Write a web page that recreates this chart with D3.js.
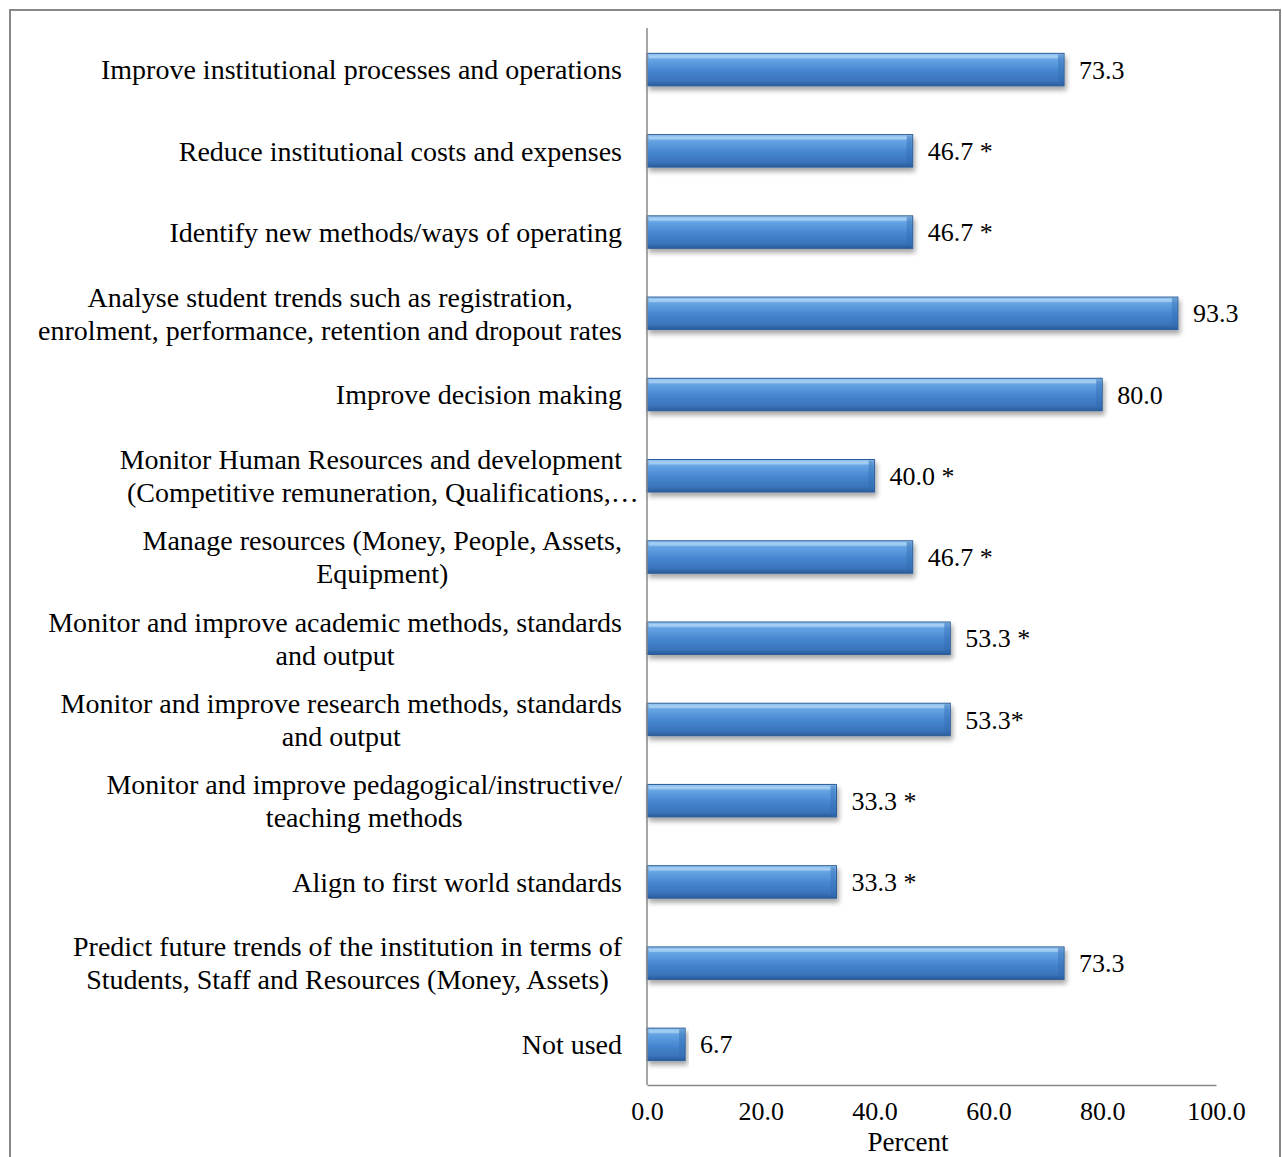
<!DOCTYPE html>
<html>
<head>
<meta charset="utf-8">
<script src="https://cdn.jsdelivr.net/npm/d3@7"></script>
<style>
  body { margin: 0; background: #fff; }
  svg { display: block; }
  svg text { fill: #000; }
</style>
</head>
<body>
<svg id="chart" width="1282" height="1157"></svg>
<script>
const categories = [
  ["Improve institutional processes and operations"],
  ["Reduce institutional costs and expenses"],
  ["Identify new methods/ways of operating"],
  ["Analyse student trends such as registration,", "enrolment, performance, retention and dropout rates"],
  ["Improve decision making"],
  ["Monitor Human Resources and development", "(Competitive remuneration, Qualifications,\u2026"],
  ["Manage resources (Money, People, Assets,", "Equipment)"],
  ["Monitor and improve academic methods, standards", "and output"],
  ["Monitor and improve research methods, standards", "and output"],
  ["Monitor and improve pedagogical/instructive/", "teaching methods"],
  ["Align to first world standards"],
  ["Predict future trends of the institution in terms of", "Students, Staff and Resources (Money, Assets)"],
  ["Not used"]
];
const values = [73.3, 46.7, 46.7, 93.3, 80.0, 40.0, 46.7, 53.3, 53.3, 33.3, 33.3, 73.3, 6.7];
const valueLabels = ["73.3", "46.7 *", "46.7 *", "93.3", "80.0", "40.0 *", "46.7 *", "53.3 *", "53.3*", "33.3 *", "33.3 *", "73.3", "6.7"];
const xTicks = [0, 20, 40, 60, 80, 100];
const xTitle = "Percent";

const FONT = "'Liberation Serif', Tinos, 'Times New Roman', Times, serif";
const svg = d3.select("#chart");
const plot = { left: 647, right: 1216, top: 29, bottom: 1085 };

// outer border
svg.append("rect").attr("x", 10).attr("y", 10).attr("width", 1270).attr("height", 1160)
  .attr("fill", "none").attr("stroke", "#878787").attr("stroke-width", 2);

const x = d3.scaleLinear().domain([0, 100]).range([plot.left, plot.right]);
const y = d3.scaleBand().domain(d3.range(categories.length)).range([plot.top, plot.bottom]).paddingInner(0.6).paddingOuter(0.3);

const defs = svg.append("defs");
const grad = defs.append("linearGradient").attr("id", "barGrad").attr("x1", 0).attr("y1", 0).attr("x2", 0).attr("y2", 1);
grad.append("stop").attr("offset", "0%").attr("stop-color", "#9ccaf2");
grad.append("stop").attr("offset", "20%").attr("stop-color", "#64a3e3");
grad.append("stop").attr("offset", "55%").attr("stop-color", "#4585cf");
grad.append("stop").attr("offset", "85%").attr("stop-color", "#3a74bb");
grad.append("stop").attr("offset", "100%").attr("stop-color", "#285b99");
const filt = defs.append("filter").attr("id", "shadow").attr("x", "-5%").attr("y", "-20%").attr("width", "115%").attr("height", "160%");
filt.append("feGaussianBlur").attr("in", "SourceAlpha").attr("stdDeviation", 2.5);
filt.append("feOffset").attr("dx", 2).attr("dy", 4).attr("result", "ob");
filt.append("feComponentTransfer").append("feFuncA").attr("type", "linear").attr("slope", 0.35);
const merge = filt.append("feMerge");
merge.append("feMergeNode");
merge.append("feMergeNode").attr("in", "SourceGraphic");

// bars
const g = svg.append("g");
const bars = g.selectAll("g.bar").data(values).enter().append("g").attr("class", "bar");
bars.append("rect")
  .attr("x", x(0)).attr("y", (d, i) => y(i))
  .attr("width", d => x(d) - x(0)).attr("height", y.bandwidth())
  .attr("fill", "url(#barGrad)").attr("stroke", "#2c5d98").attr("stroke-width", 1)
  .attr("filter", "url(#shadow)");
// right bevel edge
bars.append("rect")
  .attr("x", d => x(d) - 6).attr("y", (d, i) => y(i) + 1)
  .attr("width", 5).attr("height", y.bandwidth() - 2)
  .attr("fill", "#2f6aae").attr("opacity", 0.4);
// top highlight line
bars.append("rect")
  .attr("x", x(0) + 2).attr("y", (d, i) => y(i) + 2)
  .attr("width", d => Math.max(0, x(d) - x(0) - 8)).attr("height", 3)
  .attr("fill", "#c4e1fa").attr("opacity", 0.5);

// value labels
g.selectAll("text.val").data(values).enter().append("text")
  .attr("class", "val")
  .attr("x", d => x(d) + 15)
  .attr("y", (d, i) => y(i) + y.bandwidth() / 2)
  .attr("dy", "0.35em")
  .attr("font-size", 26)
  .attr("font-family", FONT)
  .text((d, i) => valueLabels[i]);

// axes lines
svg.append("line").attr("x1", plot.left).attr("x2", plot.left).attr("y1", plot.top - 1).attr("y2", plot.bottom)
  .attr("stroke", "#888").attr("stroke-width", 1.5);
const xAxis = d3.axisBottom(x).tickValues(xTicks).tickSize(0).tickPadding(17).tickFormat(d3.format(".1f"));
const ax = svg.append("g").attr("transform", `translate(0,${plot.bottom})`).call(xAxis);
ax.attr("font-family", FONT).attr("font-size", 26);
ax.select(".domain").attr("stroke", "#888").attr("stroke-width", 1.5);
ax.selectAll("text").attr("font-size", 26).attr("font-family", FONT).attr("fill", "#000");

svg.append("text").attr("x", 908).attr("y", 1151)
  .attr("text-anchor", "middle").attr("font-size", 27).attr("font-family", FONT).text(xTitle);

// category labels
const labelRight = 622;
const lineH = 33;
categories.forEach((lines, i) => {
  const t = svg.append("text").attr("font-size", 28).attr("font-family", FONT).attr("text-anchor", "middle");
  const spans = lines.map(l => t.append("tspan").text(l));
  let maxW = 0;
  spans.forEach((s, k) => {
    const w = s.node().getComputedTextLength();
    if (!lines[k].endsWith("\u2026")) maxW = Math.max(maxW, w);
  });
  const cx = labelRight - maxW / 2;
  const cy = y(i) + y.bandwidth() / 2;
  const y0 = cy - (lines.length - 1) * lineH / 2;
  spans.forEach((s, k) => {
    s.attr("x", lines[k].endsWith("\u2026") ? cx + 12 : cx).attr("y", y0 + k * lineH).attr("dy", "0.35em");
  });
});
</script>
</body>
</html>
